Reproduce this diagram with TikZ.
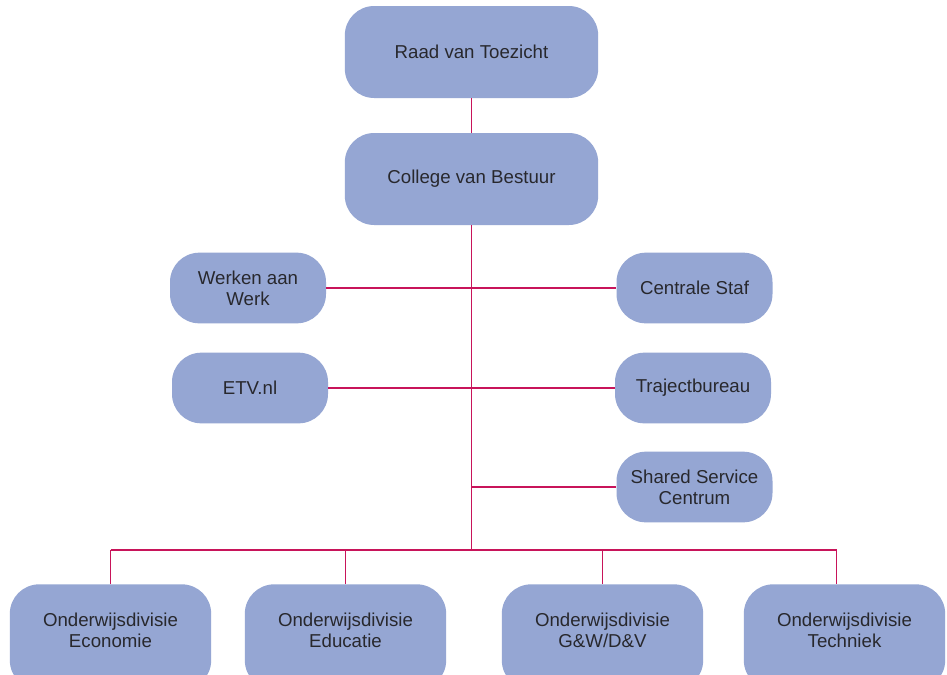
\documentclass[tikz,border=0pt]{standalone}
\usepackage{fontspec}
\setmainfont{Liberation Sans}
\usetikzlibrary{positioning}

\definecolor{boxblue}{RGB}{149,166,211}
\definecolor{linkred}{RGB}{200,20,90}
\definecolor{txtgrey}{RGB}{40,40,45}

\tikzset{
	orgbox/.style={draw=none, fill=boxblue, rounded corners=22pt, align=center,
		text=txtgrey, font=\fontsize{14}{16}\selectfont, inner sep=0pt},
	bigbox/.style={orgbox, minimum width=190pt, minimum height=69pt},
	smallbox/.style={orgbox, minimum width=117pt, minimum height=53pt},
	divbox/.style={orgbox, minimum width=151pt, minimum height=79pt, text depth=10.5pt},
	link/.style={draw=linkred, line width=1.4pt}
}

\begin{document}
\begin{tikzpicture}[x=0.75pt, y=-0.75pt]
		\fill[white] (0,0) rectangle (947,675);
		\useasboundingbox (0,0) rectangle (947,675);

		\node (raad) [bigbox] at (471.5,52) {Raad van Toezicht};
		\node (college) [bigbox] at (471.5,179) {College van Bestuur};

		\node (werken) [smallbox] at (248,288) {Werken aan\\Werk};
		\node (centrale) [smallbox] at (694.5,288) {Centrale Staf};
		\node (etv) [smallbox] at (250,388) {ETV.nl};
		\node (traject) [smallbox] at (693,388) {Trajectbureau};
		\node (ssc) [smallbox] at (694.5,487) {Shared Service\\Centrum};

		\node (econ) [divbox] at (110.5,637) {Onderwijsdivisie\\Economie};
		\node (educ) [divbox] at (345.5,637) {Onderwijsdivisie\\Educatie};
		\node (gwdv) [divbox] at (602.5,637) {Onderwijsdivisie\\G\&W/D\&V};
		\node (tech) [divbox] at (844.5,637) {Onderwijsdivisie\\Techniek};

		\coordinate (bus) at (469,550);

		\draw[link] (raad) -- (college);
		\draw[link] (college.south) -- (college.south |- bus);
		\draw[link] (werken.east) -- (centrale.west);
		\draw[link] (etv.east) -- (traject.west);
		\draw[link] (ssc.west) -- (ssc.west -| college.south);
		\draw[link] (econ.north |- bus) -- ([xshift=-6pt]tech.north |- bus);
		\foreach \div in {econ, educ, gwdv}
			\draw[link] (\div.north) -- (\div.north |- bus);
		\draw[link] ([xshift=-6pt]tech.north) -- ([xshift=-6pt]tech.north |- bus);
	\end{tikzpicture}
\end{document}
